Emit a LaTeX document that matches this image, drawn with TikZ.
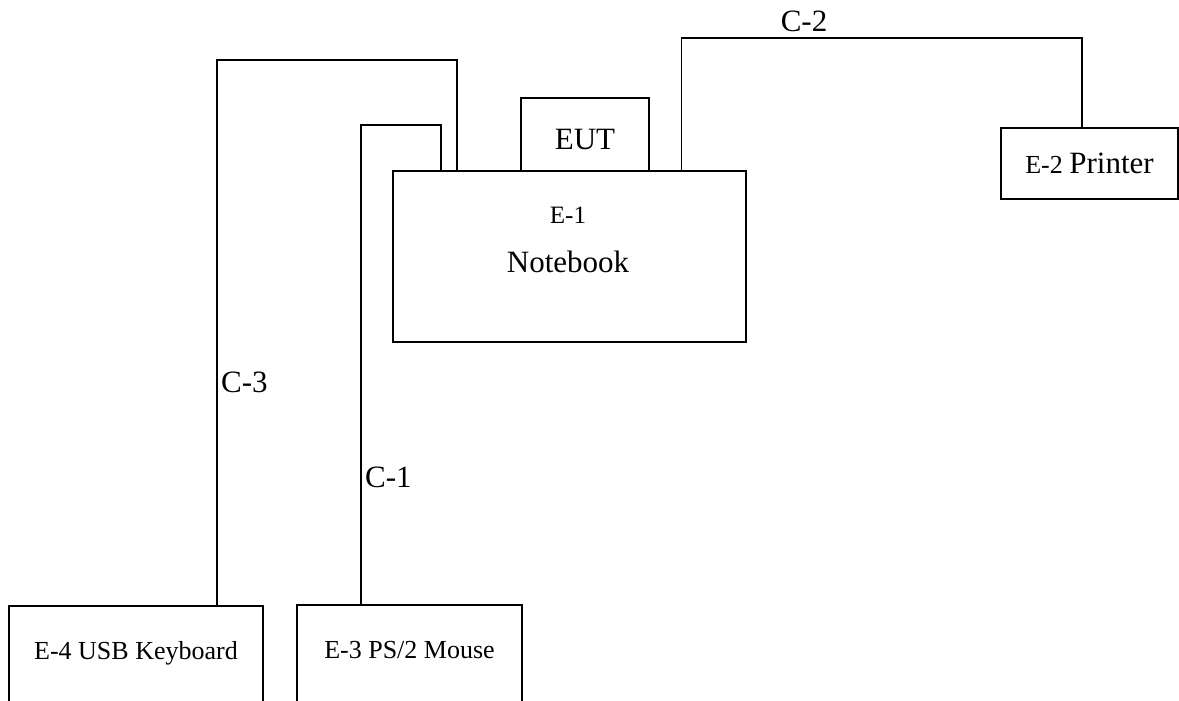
\documentclass[tikz,border=0pt]{standalone}
\usepackage{fontspec}
\setmainfont{Liberation Serif}
\usetikzlibrary{positioning,calc}

\begin{document}
\begin{tikzpicture}[
    x=1pt, y=-1pt,
    box/.style={rectangle, draw, line width=1.8pt, inner sep=0pt, align=center, font=\fontsize{31}{37}\selectfont},
    unit/.style={box, anchor=north, minimum height=120pt, text height=18pt, text depth=30pt, font=\fontsize{26}{31}\selectfont},
    cable/.style={line width=1.8pt},
    cname/.style={inner sep=0pt, font=\fontsize{31}{37}\selectfont},
    small/.style={inner sep=0pt, font=\fontsize{25}{30}\selectfont},
]
\useasboundingbox (0,0) rectangle (1179,701);
\clip (0,0) rectangle (1179,701);

% ====== Notebook + EUT ======
\node[box, minimum width=353pt, minimum height=171pt] (notebook) at (569.5,256.5) {};
\node[small, anchor=base] (nbid) at (568,223) {E-1};
\node[cname, anchor=base] (nbname) at (568,272) {Notebook};
\node[box, minimum width=128pt, minimum height=73pt, text height=30pt, text depth=0pt] (eut) at (585,134.5) {EUT};

% ====== Printer ======
\node[box, minimum width=177pt, minimum height=71pt] (printer) at (1089.5,163.5)
    {{\fontsize{26}{31}\selectfont E-2 }Printer};

% ====== Keyboard and mouse ======
\node[unit, minimum width=254pt] (keyboard) at (136,605) {E-4 USB Keyboard};
\node[unit, minimum width=225pt] (mouse) at (409.5,604) {E-3 PS/2 Mouse};

% ====== Cables ======
\coordinate (c3top) at (457,60);
\coordinate (c1top) at (441,125);
\coordinate (c2top) at (681.5,38);

\draw[cable] ([xshift=81pt]keyboard.north) |- (c3top) -- (c3top |- notebook.north);
\draw[cable] ([xshift=-48.5pt]mouse.north) |- (c1top) -- (c1top |- notebook.north);
\draw[cable] (c2top |- notebook.north) -- (c2top) -| ([xshift=-7.5pt]printer.north);

% ====== Labels ======
\node[cname, anchor=base] (c2) at (804,32) {C-2};
\node[cname, anchor=base west] (c3) at (221,392) {C-3};
\node[cname, anchor=base west] (c1) at (365,487) {C-1};

\end{tikzpicture}
\end{document}
